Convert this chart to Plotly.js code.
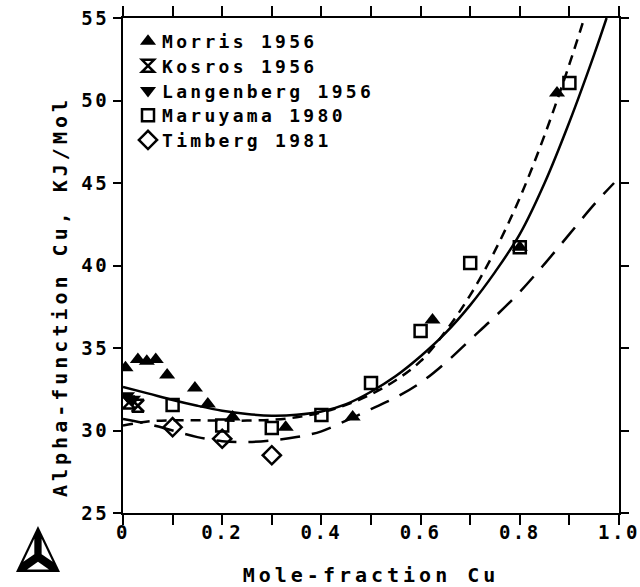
<!DOCTYPE html>
<html><head><meta charset="utf-8">
<script src="https://cdn.plot.ly/plotly-3.0.1.min.js"></script>
<style>
html,body{margin:0;padding:0;background:#fff;}
#chart{width:640px;height:587px;}
.main-svg text{letter-spacing:4px;}
.main-svg .xtick text,.main-svg .ytick text{letter-spacing:2.5px;}
.main-svg .legend text{letter-spacing:3.3px;}
.legend .scrollbox{clip-path:none !important;}
</style>
</head><body><div id="chart"></div>
<script>
// ---- data ----
const morrisX = [0.005, 0.03, 0.048, 0.066, 0.089, 0.145, 0.171, 0.221, 0.328, 0.463, 0.624, 0.8, 0.875];
const morrisY = [33.8, 34.3, 34.2, 34.3, 33.36, 32.58, 31.6, 30.82, 30.2, 30.82, 36.7, 41.1, 50.45];
const kosrosX = [0.012, 0.03];
const kosrosY = [31.7, 31.5];
const langenbergX = [0.008, 0.02];
const langenbergY = [32.1, 31.9];
const maruyamaX = [0.1, 0.2, 0.3, 0.4, 0.5, 0.6, 0.7, 0.8, 0.9];
const maruyamaY = [31.55, 30.3, 30.15, 30.94, 32.88, 36.03, 40.15, 41.1, 51.06];
const timbergX = [0.1, 0.2, 0.3];
const timbergY = [30.2, 29.5, 28.5];

const solidX = [0, 0.05, 0.1, 0.15, 0.2, 0.25, 0.3, 0.35, 0.4, 0.45, 0.5, 0.55, 0.6, 0.65, 0.7, 0.75, 0.8, 0.85, 0.9, 0.95, 0.975];
const solidY = [32.64, 32.25, 31.85, 31.5, 31.2, 31.0, 30.9, 30.95, 31.15, 31.6, 32.35, 33.3, 34.5, 35.9, 37.6, 39.6, 41.9, 45.0, 48.7, 52.8, 55.0];
const shortX = [0, 0.05, 0.1, 0.15, 0.2, 0.25, 0.3, 0.35, 0.4, 0.45, 0.5, 0.55, 0.6, 0.65, 0.7, 0.75, 0.8, 0.85, 0.9, 0.93];
const shortY = [30.3, 30.55, 30.62, 30.62, 30.6, 30.6, 30.65, 30.8, 31.1, 31.55, 32.2, 33.05, 34.2, 36.0, 38.2, 40.9, 44.1, 47.9, 52.2, 55.0];
const longX = [0, 0.05, 0.1, 0.15, 0.2, 0.25, 0.3, 0.35, 0.4, 0.45, 0.5, 0.55, 0.6, 0.65, 0.7, 0.75, 0.8, 0.85, 0.9, 0.95, 0.99];
const longY = [30.7, 30.4, 30.0, 29.6, 29.35, 29.3, 29.4, 29.6, 29.95, 30.6, 31.3, 32.0, 32.9, 34.1, 35.5, 36.9, 38.4, 40.1, 41.9, 43.7, 45.0];

const xTickVals = [0, 0.1, 0.2, 0.3, 0.4, 0.5, 0.6, 0.7, 0.8, 0.9, 1.0];
const xTickText = ['0', '', '0.2', '', '0.4', '', '0.6', '', '0.8', '', '1.0'];
const yTickVals = [25, 30, 35, 40, 45, 50, 55];
const yTickText = ['25', '30', '35', '40', '45', '50', '55'];
const xTitle = 'Mole-fraction Cu';
const yTitle = 'Alpha-function Cu, KJ/Mol';

// ---- styling ----
const FONT = {family: 'DejaVu Sans Mono', size: 20, color: '#000', weight: 'bold'};
const TICKFONT = {family: 'DejaVu Sans Mono', size: 19, color: '#000', weight: 'bold'};
const LEGFONT = {family: 'DejaVu Sans Mono', size: 18, color: '#000', weight: 'bold'};
const traces = [
  {x: solidX, y: solidY, mode: 'lines', line: {color: '#000', width: 2.5, shape: 'spline'}, showlegend: false, hoverinfo: 'skip'},
  {x: shortX, y: shortY, mode: 'lines', line: {color: '#000', width: 2.5, shape: 'spline', dash: '10px,7px'}, showlegend: false, hoverinfo: 'skip'},
  {x: longX, y: longY, mode: 'lines', line: {color: '#000', width: 2.5, shape: 'spline', dash: '20px,12px'}, showlegend: false, hoverinfo: 'skip'},
  {x: morrisX, y: morrisY, mode: 'markers', name: 'Morris 1956', marker: {symbol: 'triangle-up', size: 14, color: '#000'}},
  {x: kosrosX, y: kosrosY, mode: 'markers', name: 'Kosros 1956', marker: {symbol: 'hourglass-open', size: 12, color: '#000', line: {width: 2.5, color: '#000'}}},
  {x: langenbergX, y: langenbergY, mode: 'markers', name: 'Langenberg 1956', marker: {symbol: 'triangle-down', size: 14, color: '#000'}},
  {x: maruyamaX, y: maruyamaY, mode: 'markers', name: 'Maruyama 1980', marker: {symbol: 'square-open', size: 12, color: '#000', line: {width: 2.5, color: '#000'}}},
  {x: timbergX, y: timbergY, mode: 'markers', name: 'Timberg 1981', marker: {symbol: 'diamond-open', size: 14, color: '#000', line: {width: 2.5, color: '#000'}}}
];

const W = 640, H = 587, ML = 123, MR = 21, MT = 18, MB = 74;
const PW = W - ML - MR, PH = H - MT - MB;
function toPaper(p) { return [(p[0] - ML) / PW, (H - MB - p[1]) / PH]; }
function pathOf(pts) {
  return 'M' + pts.map(p => { const q = toPaper(p); return q[0].toFixed(4) + ',' + q[1].toFixed(4); }).join('L') + 'Z';
}
// Logo (triangle with spokes)
const A = [38, 526], Bv = [16, 572], Cv = [60, 572];
const G = [(A[0] + Bv[0] + Cv[0]) / 3, (A[1] + Bv[1] + Cv[1]) / 3];
function shrink(tri, f) {
  const c = [(tri[0][0] + tri[1][0] + tri[2][0]) / 3, (tri[0][1] + tri[1][1] + tri[2][1]) / 3];
  return tri.map(p => [c[0] + f * (p[0] - c[0]), c[1] + f * (p[1] - c[1])]);
}
const shapes = [
  {type: 'path', xref: 'paper', yref: 'paper', path: pathOf([A, Bv, Cv]), fillcolor: '#000', line: {width: 0}, layer: 'above'},
  {type: 'path', xref: 'paper', yref: 'paper', path: pathOf(shrink([A, Bv, G], 0.5)), fillcolor: '#fff', line: {width: 0}, layer: 'above'},
  {type: 'path', xref: 'paper', yref: 'paper', path: pathOf(shrink([Bv, Cv, G], 0.5)), fillcolor: '#fff', line: {width: 0}, layer: 'above'},
  {type: 'path', xref: 'paper', yref: 'paper', path: pathOf(shrink([Cv, A, G], 0.5)), fillcolor: '#fff', line: {width: 0}, layer: 'above'}
];

const axisCommon = {
  showline: true, linewidth: 2, linecolor: '#000', mirror: 'ticks',
  ticks: 'outside', tickwidth: 2, tickcolor: '#000',
  showgrid: false, zeroline: false, tickfont: TICKFONT, fixedrange: true
};
const layout = {
  width: W, height: H,
  margin: {l: ML, r: MR, t: MT, b: MB, pad: 0},
  paper_bgcolor: '#fff', plot_bgcolor: '#fff',
  font: FONT,
  showlegend: true,
  legend: {x: (128 - ML) / PW, y: 0.99, xanchor: 'left', yanchor: 'top', bgcolor: 'rgba(0,0,0,0)', font: LEGFONT, itemwidth: 30, tracegroupgap: 0},
  xaxis: Object.assign({}, axisCommon, {range: [0, 1], tickmode: 'array', tickvals: xTickVals, ticktext: xTickText, ticklen: 10,
    ticklabelstandoff: -9, title: {text: xTitle, font: FONT, standoff: 30}}),
  yaxis: Object.assign({}, axisCommon, {range: [25, 55], tickmode: 'array', tickvals: yTickVals, ticktext: yTickText, ticklen: 8}),
  annotations: [{text: yTitle, xref: 'paper', yref: 'paper', x: (60 - ML) / PW, y: (H - MB - 297) / PH,
    xanchor: 'center', yanchor: 'middle', textangle: -90, showarrow: false, font: FONT}],
  shapes: shapes
};
Plotly.newPlot('chart', traces, layout, {displayModeBar: false, staticPlot: true}).then(gd => {
  const items = gd.querySelectorAll('.legend .traces');
  let y0 = null;
  items.forEach((g, i) => {
    const tr = g.getAttribute('transform') || '';
    const m = tr.match(/translate\(\s*([-\d.eE]+)[\s,]+([-\d.eE]+)\s*\)/);
    if (!m) return;
    if (y0 === null) y0 = parseFloat(m[2]);
    g.setAttribute('transform', 'translate(' + m[1] + ',' + (y0 + i * 24.7) + ')');
    const t = g.querySelector('.legendtext');
    if (t) t.setAttribute('x', 34);
  });
});
</script>
</body></html>
